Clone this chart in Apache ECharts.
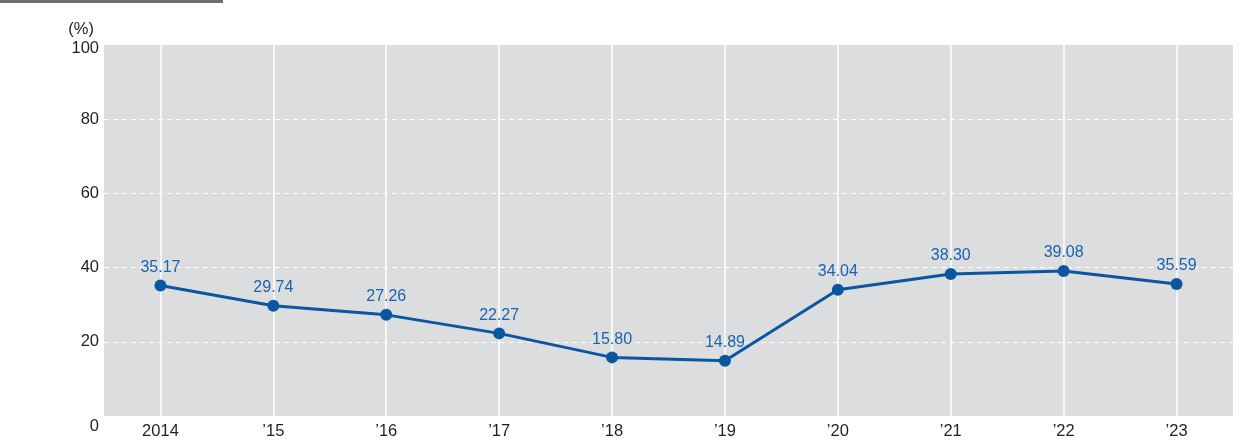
<!DOCTYPE html>
<html>
<head>
<meta charset="utf-8">
<script src="https://cdn.jsdelivr.net/npm/echarts@6/dist/echarts.min.js"></script>
<style>
  html, body { margin: 0; padding: 0; background: #fff; }
  #main { width: 1247px; height: 441px; }
</style>
</head>
<body>
<div id="main"></div>
<script>
var years = ['2014', '\u201915', '\u201916', '\u201917', '\u201918', '\u201919', '\u201920', '\u201921', '\u201922', '\u201923'];
var values = [35.17, 29.74, 27.26, 22.27, 15.80, 14.89, 34.04, 38.30, 39.08, 35.59];
var yTicks = [0, 20, 40, 60, 80, 100];

var chartDom = document.getElementById('main');
var myChart = echarts.init(chartDom, null, { renderer: 'canvas' });
var font = '"Liberation Sans", Arial, sans-serif';
var blue = '#0b56a1';

var option = {
  animation: false,
  textStyle: { fontFamily: font },
  graphic: [
    { type: 'rect', left: 0, top: 0, shape: { width: 223, height: 3 }, style: { fill: '#6d6e70' } }
  ],
  grid: {
    left: 104,
    right: 14,
    top: 45,
    bottom: 25,
    show: true,
    backgroundColor: '#dcdddf',
    borderWidth: 0
  },
  xAxis: {
    type: 'category',
    data: years,
    boundaryGap: true,
    axisLine: { show: false },
    axisTick: { show: false },
    axisLabel: { color: '#231f20', fontSize: 16.5, margin: 7, fontFamily: font },
    splitLine: { show: true, alignWithLabel: true, lineStyle: { color: '#ffffff', width: 1.5 } }
  },
  yAxis: {
    type: 'value',
    min: 0,
    max: 100,
    interval: 20,
    name: '(%)',
    nameLocation: 'end',
    nameGap: 7,
    nameTextStyle: { color: '#231f20', fontSize: 16.5, align: 'right', padding: [0, 10, 0, 0], fontFamily: font },
    axisLine: { show: false },
    axisTick: { show: false },
    axisLabel: {
      color: '#231f20', fontSize: 16.5, margin: 5, fontFamily: font,
      formatter: function (v) {
        if (yTicks.indexOf(v) < 0) return '';
        return v === 0 ? '{z|0}' : (v === 100 ? '{t|100}' : String(v));
      },
      rich: {
        z: { color: '#231f20', fontSize: 16.5, fontFamily: font, padding: [20, 0, 0, 0] },
        t: { color: '#231f20', fontSize: 16.5, fontFamily: font, padding: [6, 0, 0, 0] }
      }
    },
    splitLine: { show: true, showMinLine: false, showMaxLine: false, lineStyle: { color: '#ffffff', type: [5, 4], width: 1 } }
  },
  series: [{
    type: 'line',
    data: values,
    symbol: 'circle',
    symbolSize: 12,
    lineStyle: { color: blue, width: 3 },
    itemStyle: { color: blue },
    label: {
      show: true,
      position: 'top',
      distance: 4,
      color: '#1a62ad',
      fontSize: 16,
      fontFamily: font,
      formatter: function (p) { return p.value.toFixed(2); }
    }
  }]
};
myChart.setOption(option);
</script>
</body>
</html>
